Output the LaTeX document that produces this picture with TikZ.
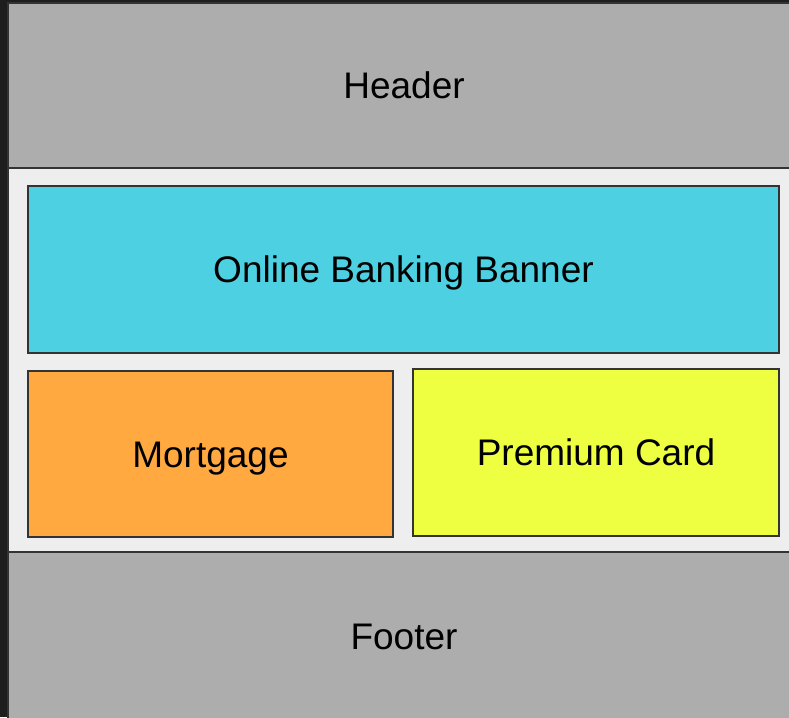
\documentclass[tikz,border=0pt]{standalone}
\usepackage{fontspec}
\setmainfont{Liberation Sans}
\definecolor{PageDark}{HTML}{1E1E1E}
\definecolor{FrameGray}{HTML}{ADADAD}
\definecolor{BodyGray}{HTML}{EEEEEE}
\definecolor{BannerCyan}{HTML}{4DD0E1}
\definecolor{MortgageOrange}{HTML}{FFA940}
\definecolor{CardYellow}{HTML}{EEFF41}
\definecolor{EdgeDark}{HTML}{333333}
\tikzset{
  label text/.style={text=black, text height=26.6pt, text depth=0pt,
    font=\fontsize{37}{44}\selectfont},
  block/.style={draw=EdgeDark, line width=1.6pt, inner sep=0pt, label text},
}
\begin{document}
\begin{tikzpicture}[x=1pt, y=-1pt]

% _____ Page
\useasboundingbox (0,0) rectangle (789,717);
\fill[PageDark] (0,0) rectangle (789,717);

% _____ Layout sizes
\def\PageW{792}
\def\RowH{165}
\def\TileH{166}

% _____ Header, body, footer
\node[block, fill=FrameGray, minimum width=\PageW pt, minimum height=\RowH pt] (header) at (404,85.5) {Header};
\node[block, fill=BodyGray, minimum width=\PageW pt, minimum height=384pt] (body) at (404,360) {};
\node[block, fill=FrameGray, minimum width=\PageW pt, minimum height=180pt] (footer) at (404,642) {};
\node[label text] (footertext) at (404,636) {Footer};

% _____ Tiles
\node[block, fill=BannerCyan, minimum width=751pt, minimum height=167pt] (banner) at (403.5,269.5) {Online Banking Banner};
\node[block, fill=MortgageOrange, minimum width=365pt, minimum height=\TileH pt] (mortgage) at (210.5,454) {Mortgage};
\node[block, fill=CardYellow, minimum width=366pt, minimum height=167pt] (card) at (596,452.5) {Premium Card};

\end{tikzpicture}
\end{document}
